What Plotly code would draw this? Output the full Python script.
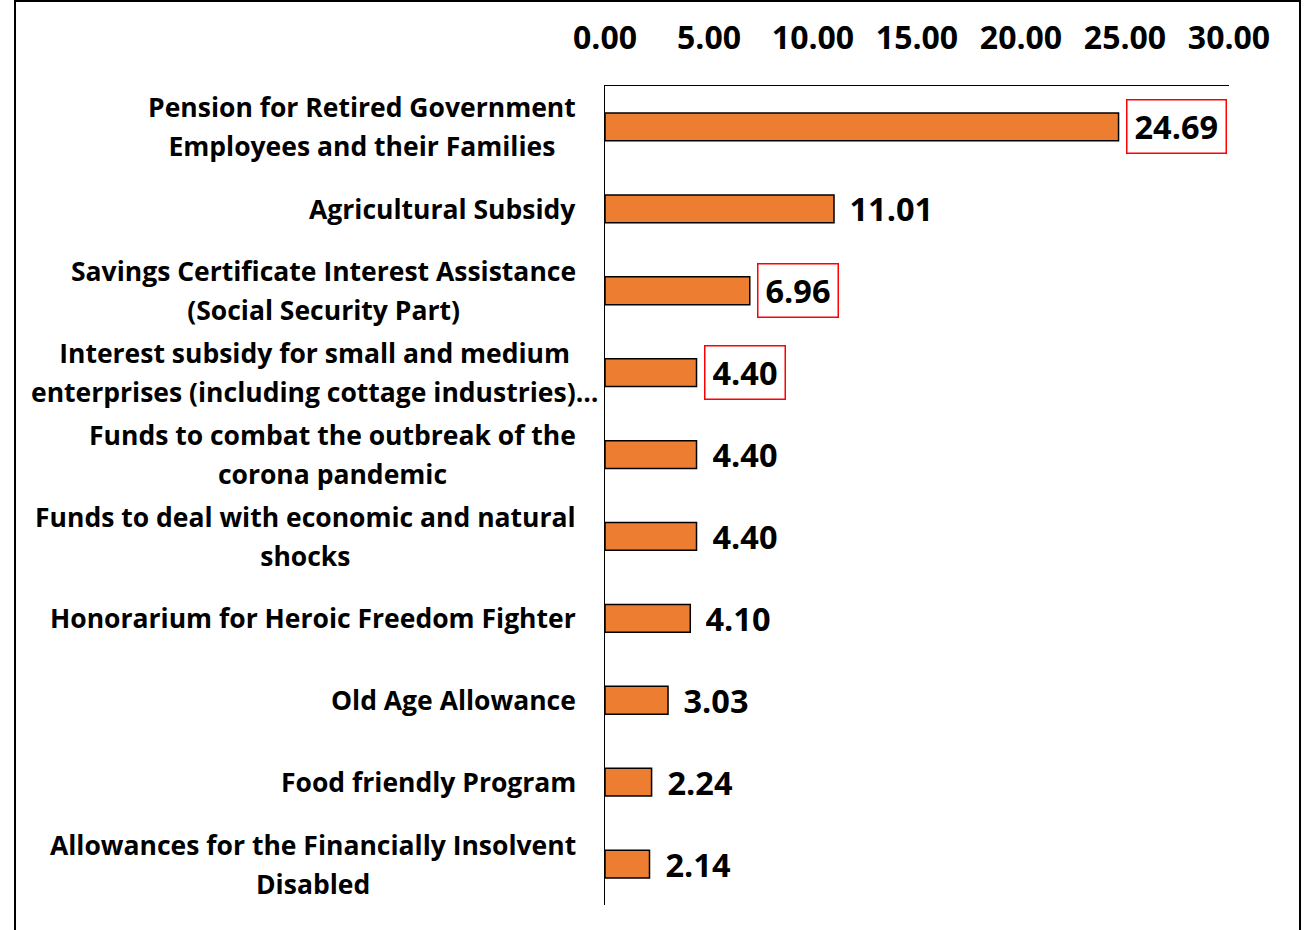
import plotly.graph_objects as go

# Social security allocations (values shown on bars)
categories = [
    "Pension for Retired Government<br>Employees and their Families",
    "Agricultural Subsidy",
    "Savings Certificate Interest Assistance<br>(Social Security Part)",
    "Interest subsidy for small and medium<br>enterprises (including cottage industries)…",
    "Funds to combat the outbreak of the<br>corona pandemic",
    "Funds to deal with economic and natural<br>shocks",
    "Honorarium for Heroic Freedom Fighter",
    "Old Age Allowance",
    "Food friendly Program",
    "Allowances for the Financially Insolvent<br>Disabled",
]
values = [24.69, 11.01, 6.96, 4.40, 4.40, 4.40, 4.10, 3.03, 2.24, 2.14]
highlighted = [True, False, True, True, False, False, False, False, False, False]
tick_values = [0, 5, 10, 15, 20, 25, 30]

FONT = "Open Sans"
ORANGE = "#ED7D31"

ids = list(range(len(categories)))

fig = go.Figure(
    go.Bar(
        x=values,
        y=ids,
        orientation="h",
        width=0.34,
        marker=dict(color=ORANGE, line=dict(color="black", width=1.5)),
        hoverinfo="skip",
    )
)

annotations = []
# category labels: centered lines, block right-aligned next to the axis
for i, cat in enumerate(categories):
    lines = cat.split("<br>")
    txt = "<br>".join(f'<span style="font-size:26.5px">{ln}</span>' for ln in lines)
    shift = -5 if "…" in cat else -27
    annotations.append(dict(
        x=0, y=i, xref="x", yref="y", text=txt, showarrow=False,
        xanchor="right", yanchor="middle", align="center", xshift=shift,
        font=dict(family=FONT, size=30, color="black", weight="bold"),
    ))

# value labels at bar ends
for i, (v, hl) in enumerate(zip(values, highlighted)):
    annotations.append(dict(
        x=v, y=i, xref="x", yref="y", text=f"{v:.2f}", showarrow=False,
        xanchor="left", yanchor="middle", xshift=7, height=38, valign="middle",
        bordercolor="#FF0000" if hl else "rgba(0,0,0,0)",
        borderwidth=1.5, borderpad=7,
        font=dict(family=FONT, size=32.5, color="black", weight="bold"),
    ))

fig.update_layout(
    width=1312, height=930,
    margin=dict(l=605, r=83, t=86, b=25),
    paper_bgcolor="white", plot_bgcolor="white",
    showlegend=False,
    annotations=annotations,
    shapes=[dict(
        type="rect", xref="paper", yref="paper",
        x0=-0.9455, x1=1.1138, y0=-0.06, y1=1.1038,
        line=dict(color="black", width=2), fillcolor="rgba(0,0,0,0)",
    )],
    xaxis=dict(
        side="top", range=[0, 30], tickvals=tick_values, tickformat=".2f",
        showgrid=False, zeroline=False, showline=True, linecolor="black", linewidth=1,
        ticks="", ticklabelstandoff=23,
        tickfont=dict(family=FONT, size=32, color="black", weight="bold"),
    ),
    yaxis=dict(
        range=[len(categories) - 0.5, -0.5], showticklabels=False,
        showgrid=False, zeroline=False, showline=True, linecolor="black", linewidth=1,
        ticks="",
    ),
)

fig.write_html("out.html")
